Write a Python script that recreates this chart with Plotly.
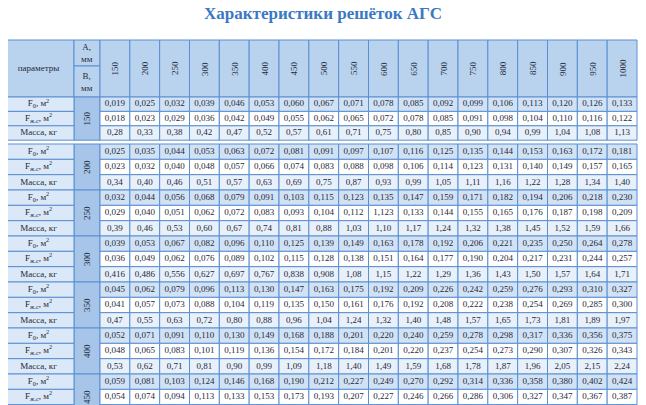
import plotly.graph_objects as go

# Table data
widths_a = ["150", "200", "250", "300", "350", "400", "450", "500", "550",
            "600", "650", "700", "750", "800", "850", "900", "950", "1000"]
heights_b = ["150", "200", "250", "300", "350", "400", "450"]
row_labels = ["F<sub>0</sub>, м<sup>2</sup>", "F<sub>ж.с</sub>, м<sup>2</sup>", "Масса, кг"]

f0 = [
    "0,019 0,025 0,032 0,039 0,046 0,053 0,060 0,067 0,071 0,078 0,085 0,092 0,099 0,106 0,113 0,120 0,126 0,133",
    "0,025 0,035 0,044 0,053 0,063 0,072 0,081 0,091 0,097 0,107 0,116 0,125 0,135 0,144 0,153 0,163 0,172 0,181",
    "0,032 0,044 0,056 0,068 0,079 0,091 0,103 0,115 0,123 0,135 0,147 0,159 0,171 0,182 0,194 0,206 0,218 0,230",
    "0,039 0,053 0,067 0,082 0,096 0,110 0,125 0,139 0,149 0,163 0,178 0,192 0,206 0,221 0,235 0,250 0,264 0,278",
    "0,045 0,062 0,079 0,096 0,113 0,130 0,147 0,163 0,175 0,192 0,209 0,226 0,242 0,259 0,276 0,293 0,310 0,327",
    "0,052 0,071 0,091 0,110 0,130 0,149 0,168 0,188 0,201 0,220 0,240 0,259 0,278 0,298 0,317 0,336 0,356 0,375",
    "0,059 0,081 0,103 0,124 0,146 0,168 0,190 0,212 0,227 0,249 0,270 0,292 0,314 0,336 0,358 0,380 0,402 0,424",
]
f_js = [
    "0,018 0,023 0,029 0,036 0,042 0,049 0,055 0,062 0,065 0,072 0,078 0,085 0,091 0,098 0,104 0,110 0,116 0,122",
    "0,023 0,032 0,040 0,048 0,057 0,066 0,074 0,083 0,088 0,098 0,106 0,114 0,123 0,131 0,140 0,149 0,157 0,165",
    "0,029 0,040 0,051 0,062 0,072 0,083 0,093 0,104 0,112 1,123 0,133 0,144 0,155 0,165 0,176 0,187 0,198 0,209",
    "0,036 0,049 0,062 0,076 0,089 0,102 0,115 0,128 0,138 0,151 0,164 0,177 0,190 0,204 0,217 0,231 0,244 0,257",
    "0,041 0,057 0,073 0,088 0,104 0,119 0,135 0,150 0,161 0,176 0,192 0,208 0,222 0,238 0,254 0,269 0,285 0,300",
    "0,048 0,065 0,083 0,101 0,119 0,136 0,154 0,172 0,184 0,201 0,220 0,237 0,254 0,273 0,290 0,307 0,326 0,343",
    "0,054 0,074 0,094 0,113 0,133 0,153 0,173 0,193 0,207 0,227 0,246 0,266 0,286 0,306 0,327 0,347 0,367 0,387",
]
mass = [
    "0,28 0,33 0,38 0,42 0,47 0,52 0,57 0,61 0,71 0,75 0,80 0,85 0,90 0,94 0,99 1,04 1,08 1,13",
    "0,34 0,40 0,46 0,51 0,57 0,63 0,69 0,75 0,87 0,93 0,99 1,05 1,11 1,16 1,22 1,28 1,34 1,40",
    "0,39 0,46 0,53 0,60 0,67 0,74 0,81 0,88 1,03 1,10 1,17 1,24 1,32 1,38 1,45 1,52 1,59 1,66",
    "0,416 0,486 0,556 0,627 0,697 0,767 0,838 0,908 1,08 1,15 1,22 1,29 1,36 1,43 1,50 1,57 1,64 1,71",
    "0,47 0,55 0,63 0,72 0,80 0,88 0,96 1,04 1,24 1,32 1,40 1,48 1,57 1,65 1,73 1,81 1,89 1,97",
    "0,53 0,62 0,71 0,81 0,90 0,99 1,09 1,18 1,40 1,49 1,59 1,68 1,78 1,87 1,96 2,05 2,15 2,24",
    "",  # below the visible area
]

FONT = "Liberation Serif"
BORDER = "#5a8fd2"
TXT = "#1f2a3a"
row_fills = ["#d2e2f5", "#ffffff", "#e8f0fa"]

# geometry in page pixels (page body has an 8px margin)
PAGE_OFF = 8
X0, X1, X2, XEND = 3, 74, 100, 637
colw = (XEND - X2) / len(widths_a)
HEAD_TOP, HEAD_MID, HEAD_BOT = 40, 66, 97

shapes, annots = [], []
tx, ty, tt = [], [], []


def cell(x0, y0, x1, y1, fill):
    shapes.append(dict(type="rect", x0=x0, x1=x1, y0=y0, y1=y1, fillcolor=fill,
                       line=dict(color=BORDER, width=1), layer="below"))


# header
cell(X0, HEAD_TOP, X1, HEAD_BOT, "#b9d3ef")
tx.append((X0 + X1) / 2); ty.append((HEAD_TOP + HEAD_BOT) / 2); tt.append("параметры")
cell(X1, HEAD_TOP, X2, HEAD_MID, "#b9d3ef")
cell(X1, HEAD_MID, X2, HEAD_BOT, "#b9d3ef")
annots.append(dict(x=(X1 + X2) / 2, y=(HEAD_TOP + HEAD_MID) / 2, text="А,<br>мм"))
annots.append(dict(x=(X1 + X2) / 2, y=(HEAD_MID + HEAD_BOT) / 2, text="В,<br>мм"))
for i, a in enumerate(widths_a):
    xa = X2 + i * colw
    cell(xa, HEAD_TOP, xa + colw, HEAD_BOT, "#b9d3ef")
    annots.append(dict(x=xa + colw / 2, y=(HEAD_TOP + HEAD_BOT) / 2, text=a, textangle=-90))

# body groups
groups = [(HEAD_BOT, 14.4)]
y = 144
for g in range(1, len(heights_b)):
    groups.append((y, 46 / 3))
    y += 46

for g, b in enumerate(heights_b):
    gy, rh = groups[g]
    series = [f0[g], f_js[g], mass[g]]
    cell(X1, gy, X2, gy + 3 * rh, "#a6c5e8")
    annots.append(dict(x=(X1 + X2) / 2, y=gy + 1.5 * rh, text=b, textangle=-90))
    for r in range(3):
        y0 = gy + r * rh
        vals = series[r].split()
        cell(X0, y0, X1, y0 + rh, "#dbe8f7")
        if y0 + rh / 2 < 400:
            tx.append((X0 + X1) / 2); ty.append(y0 + rh / 2); tt.append(row_labels[r])
        for i in range(len(widths_a)):
            xa = X2 + i * colw
            cell(xa, y0, xa + colw, y0 + rh, row_fills[r])
            if i < len(vals):
                tx.append(xa + colw / 2); ty.append(y0 + rh / 2); tt.append(vals[i])

for a in annots:
    a.update(xref="x", yref="y", showarrow=False, font=dict(family=FONT, size=9, color=TXT))

fig = go.Figure(go.Scatter(x=tx, y=ty, text=tt, mode="text",
                           textfont=dict(family=FONT, size=9, color=TXT), hoverinfo="skip"))
fig.update_layout(
    width=646 - PAGE_OFF, height=405 - PAGE_OFF, margin=dict(l=0, r=0, t=0, b=0),
    paper_bgcolor="white", plot_bgcolor="white", showlegend=False,
    xaxis=dict(range=[PAGE_OFF, 646], visible=False, fixedrange=True),
    yaxis=dict(range=[405, PAGE_OFF], visible=False, fixedrange=True),
    shapes=shapes, annotations=annots + [dict(
        x=323, y=13, xref="x", yref="y", showarrow=False,
        text="<b>Характеристики решёток АГС</b>",
        font=dict(family=FONT, size=17, color="#3a78c4"))],
)
fig.write_html("out.html")
